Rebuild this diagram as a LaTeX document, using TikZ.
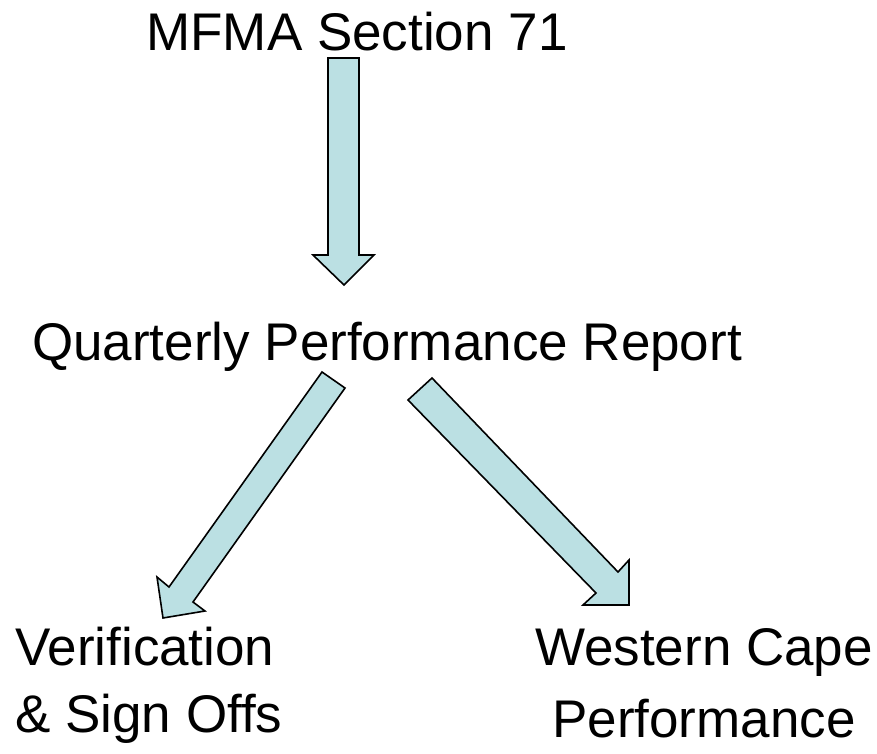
\documentclass[tikz,border=0pt]{standalone}
\usepackage{fontspec}
\setmainfont{Liberation Sans}
\definecolor{arrowfill}{RGB}{187,224,227}
\tikzset{
  lbl/.style={inner sep=0pt, font=\fontsize{53}{67}\selectfont},
  blockarrow/.style={draw=black, line width=1.6pt, fill=arrowfill, line join=miter}
}
\begin{document}
\begin{tikzpicture}[x=1pt,y=-1pt]
\useasboundingbox (0,0) rectangle (877,753);
\node[lbl, anchor=base] (mfma) at (357,50) {MFMA Section 71};
\node[lbl, anchor=base] (qpr) at (387,360) {Quarterly Performance Report};
\node[lbl, anchor=base west, align=left] (ver) at (15,732) {Verification\\\& Sign Offs};
\node[lbl, anchor=base, align=center, font=\fontsize{53}{72}\selectfont] (wcp) at (704,737) {Western Cape\\Performance};
% block arrows
\draw[blockarrow] (328,58) -- (359,58) -- (359,255) -- (374,255) -- (344,285) -- (313,255) -- (328,255) -- cycle;
\draw[blockarrow] (322,372) -- (345,388) -- (193,602) -- (205,611) -- (163,618) -- (157,577) -- (169,587) -- cycle;
\draw[blockarrow] (432,378) -- (618,572) -- (629,560) -- (629,605) -- (583,605) -- (596,593) -- (408,400) -- cycle;
\end{tikzpicture}
\end{document}
